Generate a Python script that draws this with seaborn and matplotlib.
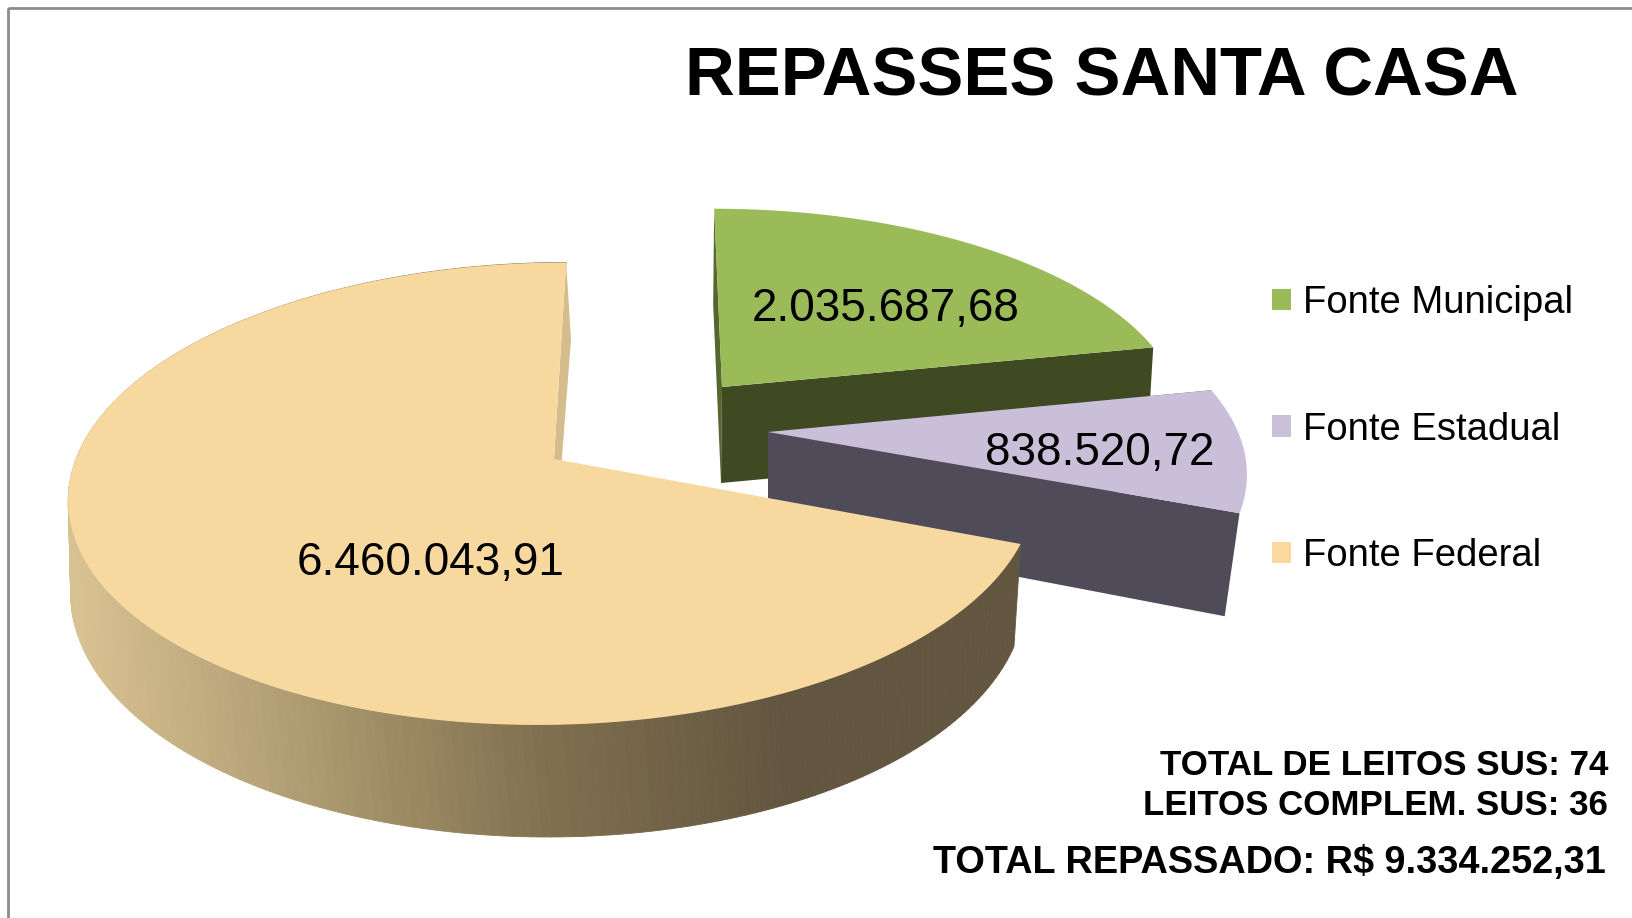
import numpy as np
import seaborn as sns
import matplotlib.pyplot as plt
from matplotlib.collections import PolyCollection
from matplotlib.patches import Patch, Polygon, Rectangle

# ======================
# DADOS
# ======================

fontes = ["Fonte Municipal", "Fonte Estadual", "Fonte Federal"]
valores = [2035687.68, 838520.72, 6460043.91]
rotulos = ["2.035.687,68", "838.520,72", "6.460.043,91"]
titulo = "REPASSES SANTA CASA"
notas = ["TOTAL DE LEITOS SUS: 74", "LEITOS COMPLEM. SUS: 36", "TOTAL REPASSADO: R$ 9.334.252,31"]

cores_topo = ["#9BBB59", "#C9BFD9", "#F7D89E"]
cores_lado = ["#3F4A23", "#4F4B58"]
cores_canto = ["#56662F", "#4F4B58", "#D4BC8C"]
degrade = ["#D9C292", "#AD9A70", "#80704F", "#635640", "#635640"]

# perspectiva de cada fatia: disco de cima e disco de baixo
K = 0.15
topo = [
    dict(cx=722, cy=387, rx=455, ry=205, sh=-9),
    dict(cx=768, cy=432, rx=470, ry=216, sh=-20),
    dict(cx=554, cy=459, rx=478, ry=226, sh=14),
]
base = [
    dict(cx=721, cy=483, rx=450, ry=205, sh=-9),
    dict(cx=768, cy=529, rx=455, ry=232, sh=-20),
    dict(cx=548, cy=557, rx=472, ry=238, sh=0),
]
canto_federal = dict(cx=561, cy=470, rx=478, ry=150, sh=11.5)


def projeta(theta, d):
    t = np.radians(theta)
    u, v = np.cos(t), np.sin(t)
    w = 1 + K * v
    return np.column_stack([d["cx"] + (d["rx"] * u + d["sh"] * v) / w, d["cy"] - d["ry"] * v / w])


def centro(d):
    return [d["cx"], d["cy"]]


# ======================
# ANGULOS
# ======================

fatias = np.array(valores) / sum(valores) * 360
limites = 90 - np.concatenate([[0], np.cumsum(fatias)])

# ======================
# GRAFICO
# ======================

sns.set_theme(style="white")
plt.rcParams["font.family"] = ["Liberation Sans", "DejaVu Sans"]

fig = plt.figure(figsize=(16.32, 9.18), dpi=100)
ax = fig.add_axes([0, 0, 1, 1])
ax.set_xlim(0, 1632)
ax.set_ylim(918, 0)
ax.axis("off")

ax.add_patch(Rectangle((8, 8), 1700, 1000, fill=False, edgecolor="#8C8C8C", linewidth=2))

for i in range(3):
    a0, a1 = limites[i], limites[i + 1]
    arco = np.linspace(a0, a1, 240)
    borda = projeta(arco, topo[i])
    fundo = projeta(arco, base[i])

    # parede de tras: a federal fecha no topo, no fim do arco
    d_canto = canto_federal if i == 2 else base[i]
    a_canto, p_topo = (a1, borda[-1]) if i == 2 else (a0, borda[0])
    p_ini = projeta(np.array([a_canto]), d_canto)[0]
    ax.add_patch(Polygon([centro(topo[i]), p_topo, p_ini, centro(d_canto)],
                         facecolor=cores_canto[i], edgecolor="none", zorder=i * 3 + 1))

    if i < 2:
        # parede da frente (fim da fatia)
        ax.add_patch(Polygon([centro(topo[i]), borda[-1], fundo[-1], centro(base[i])],
                             facecolor=cores_lado[i], edgecolor="none", zorder=i * 3 + 2))
    else:
        # parede curva com degrade
        quads = [[borda[j], borda[j + 1], fundo[j + 1], fundo[j]] for j in range(len(arco) - 1)]
        paleta = sns.blend_palette(degrade, n_colors=256)
        pos = (borda[:-1, 0] - 70) / (1020 - 70)
        idx = np.clip((pos * 255).astype(int), 0, 255)
        cores = [paleta[j] for j in idx]
        ax.add_collection(PolyCollection(quads, facecolors=cores, edgecolors=cores,
                                         linewidths=0.6, zorder=i * 3 + 2))

    ax.add_patch(Polygon(np.vstack([centro(topo[i]), borda]), facecolor=cores_topo[i],
                         edgecolor="none", zorder=i * 3 + 3))

# ======================
# TEXTOS
# ======================

ax.text(1102, 96, titulo, fontsize=49.6, fontweight="bold", color="black", ha="center", va="baseline")

pos_rotulos = [(886, 309), (1100, 453), (431, 563)]
for texto, (x, y) in zip(rotulos, pos_rotulos):
    ax.text(x, y, texto, fontsize=33, color="black", ha="center", va="center", zorder=20)

ax.text(1608, 775, notas[0], fontsize=25.2, fontweight="bold", color="black", ha="right", va="baseline", zorder=20)
ax.text(1608, 815, notas[1], fontsize=25.1, fontweight="bold", color="black", ha="right", va="baseline", zorder=20)
ax.text(1606, 873, notas[2], fontsize=27.3, fontweight="bold", color="black", ha="right", va="baseline", zorder=20)

handles = [Patch(facecolor=c, edgecolor="none", label=f) for f, c in zip(fontes, ["#9BBB59", "#CBC0DA", "#FAD89E"])]
ax.legend(handles=handles, loc="upper left", bbox_to_anchor=(1272 / 1632, 1 - 285 / 918), frameon=False,
          fontsize=27.5, labelspacing=2.37, handlelength=0.5, handleheight=0.5, handletextpad=0.32,
          borderpad=0, borderaxespad=0, labelcolor="black")

plt.savefig("out.png", dpi=100)
